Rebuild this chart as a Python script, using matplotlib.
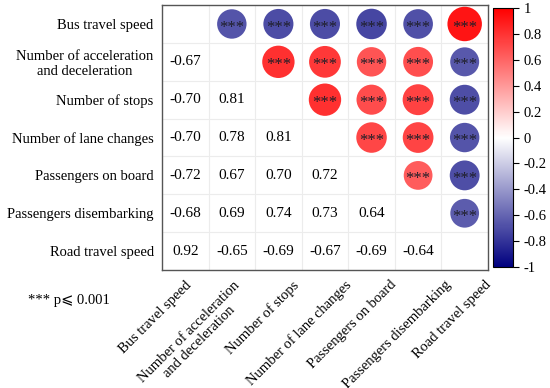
import numpy as np
import matplotlib.pyplot as plt
from matplotlib.colors import LinearSegmentedColormap
from matplotlib.transforms import ScaledTranslation

plt.rcParams['font.family'] = ['Liberation Serif', 'DejaVu Sans']

labels = ['Bus travel speed', 'Number of acceleration\nand deceleration',
          'Number of stops', 'Number of lane changes', 'Passengers on board',
          'Passengers disembarking', 'Road travel speed']

# lower triangle of the correlation matrix, row by row
lower = [
    [],
    [-0.67],
    [-0.70, 0.81],
    [-0.70, 0.78, 0.81],
    [-0.72, 0.67, 0.70, 0.72],
    [-0.68, 0.69, 0.74, 0.73, 0.64],
    [0.92, -0.65, -0.69, -0.67, -0.69, -0.64],
]
cbar_ticks = [1, 0.8, 0.6, 0.4, 0.2, 0, -0.2, -0.4, -0.6, -0.8, -1]
cbar_labels = ['1', '0.8', '0.6', '0.4', '0.2', '0', '-0.2', '-0.4', '-0.6', '-0.8', '-1']

n = len(labels)
corr = np.eye(n)
for i, row in enumerate(lower):
    for j, v in enumerate(row):
        corr[i, j] = v
        corr[j, i] = v

cmap = LinearSegmentedColormap.from_list('bwr2', ['#00007F', '#FFFFFF', '#FF0000'])

fig = plt.figure(figsize=(5.5, 3.88), dpi=100)
ax = fig.add_axes([0.2945, 0.304, 0.5927, 0.683])
cax = fig.add_axes([0.897, 0.312, 0.036, 0.667])

ax.set_xlim(-0.5, n - 0.5)
ax.set_ylim(n - 0.5, -0.5)
for k in np.arange(0.5, n - 0.5):
    ax.axvline(k, color='#ececec', lw=0.8, zorder=0)
    ax.axhline(k, color='#ececec', lw=0.8, zorder=0)

# upper triangle: circles
xs, ys, vals = [], [], []
for i in range(n):
    for j in range(i + 1, n):
        xs.append(j)
        ys.append(i)
        vals.append(corr[i, j])
vals = np.array(vals)
sc = ax.scatter(xs, ys, s=670 * np.abs(vals), c=vals, cmap=cmap, vmin=-1, vmax=1,
                edgecolors='none', zorder=2)
for x, y in zip(xs, ys):
    ax.text(x, y + 0.2, '***', ha='center', va='baseline', fontsize=12,
            color='#1e1e28', zorder=3)

# lower triangle: numbers
for i in range(n):
    for j in range(i):
        ax.text(j, i, f'{corr[i, j]:.2f}', ha='center', va='center', fontsize=11)

ax.set_xticks(range(n))
ax.set_yticks(range(n))
ax.set_xticklabels(labels, rotation=45, ha='right', rotation_mode='anchor',
                   multialignment='center', fontsize=10.5)
ax.set_yticklabels(labels, multialignment='center', fontsize=10.5)
ax.tick_params(length=0, pad=6)
# the x labels in the original sit a bit to the right of their columns
shift_px = [0, 1, 14, 20, 18, 26, 20]
for lab, dx in zip(ax.get_xticklabels(), shift_px):
    lab.set_transform(lab.get_transform() + ScaledTranslation(dx / 100, 0, fig.dpi_scale_trans))
for s in ax.spines.values():
    s.set_color('#555555')
    s.set_linewidth(1.0)

cb = fig.colorbar(sc, cax=cax, ticks=cbar_ticks)
cb.set_ticklabels(cbar_labels)
cb.ax.tick_params(labelsize=10.5, length=4, width=0.8)
cb.outline.set_linewidth(0.8)

fig.text(0.05, 0.225, '*** p⩽ 0.001', fontsize=10.5, ha='left', va='center')

fig.savefig('out.png', dpi=100)
